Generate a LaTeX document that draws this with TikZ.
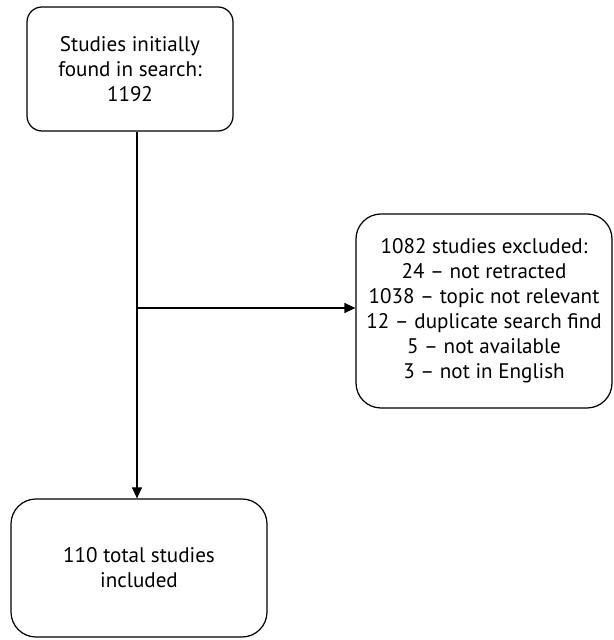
\documentclass[tikz,border=0pt]{standalone}
\usepackage{fontspec}
\setmainfont{PT Sans}
\usetikzlibrary{positioning, arrows.meta}

\begin{document}
\begin{tikzpicture}[
    block/.style={draw, line width=0.7pt, align=center, font=\fontsize{12}{14.2}\selectfont},
    flow/.style={line width=0.7pt, -{Triangle[length=2.2mm, width=2mm]}},
]
\useasboundingbox (0, 0) rectangle (12.26, 12.8);

% Search and screening
\node[block, rounded corners=0.3cm, minimum width=4.12cm, minimum height=2.48cm] (found) at (2.6, 11.42) {Studies initially\\found in search:\\1192};
\node[block, rounded corners=0.5cm, minimum width=5.12cm, minimum height=3.88cm] (excluded) at (9.68, 6.58) {1082 studies excluded:\\24 -- not retracted\\1038 -- topic not relevant\\12 -- duplicate search find\\5 -- not available\\3 -- not in English};
\node[block, rounded corners=0.5cm, minimum width=5.12cm, minimum height=2.76cm] (included) at (2.78, 1.44) {110 total studies\\included};

\coordinate (split) at (2.74, 6.64);

\draw[flow] (split |- found.south) -- (split |- included.north);
\draw[flow] (split) -- (excluded.west |- split);

\end{tikzpicture}
\end{document}
